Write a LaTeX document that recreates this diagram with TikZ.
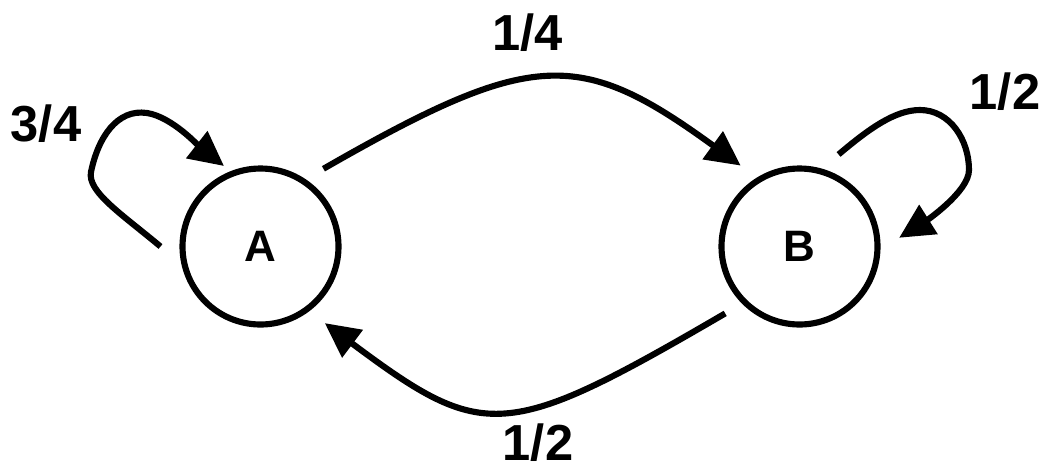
\documentclass[tikz,border=0pt]{standalone}
\usepackage{fontspec}
\setmainfont{Liberation Sans}
\usetikzlibrary{arrows.meta,calc}
\begin{document}
\begin{tikzpicture}[x=0.75pt,y=-0.75pt,
  state/.style={circle,draw,line width=4.6pt,minimum size=117pt,inner sep=0pt,outer sep=16.5pt,font=\fontsize{33}{36}\selectfont\bfseries},
  lbl/.style={font=\fontsize{38}{40}\selectfont\bfseries,inner sep=0pt},
  edge/.style={line width=4.6pt,-{Triangle[length=26pt,width=25pt]}}]
\useasboundingbox (0,0) rectangle (1042,472);
\node[state] (A) at (260.5,246.5) {A};
\node[state] (B) at (799.5,246.5) {B};
\draw[edge] (A.51) .. controls (532.9,48.6) and (579.7,48.6) .. (B.126);
\draw[edge] (B.222) .. controls (504.8,441.9) and (484.1,441.9) .. (A.310);
\draw[edge] (A.180) .. controls (122.2,214.4) and (87,191.6) .. (91,172)
   .. controls (98,137.7) and (117,108.5) .. (147,113)
   .. controls (172,116.75) and (200.4,147.5) .. ($(A.center)+(114.4:66.3pt)$);
\draw[edge] (B.67) .. controls (869,128.7) and (895,110) .. (920,110)
   .. controls (950,110) and (969,140) .. (969,170)
   .. controls (969,192) and (924.3,222) .. (B.5);
\node[lbl] (l34) at (46,123.5) {3/4};
\node[lbl] (l14) at (527.5,32.5) {1/4};
\node[lbl] (l12a) at (1005,91.5) {1/2};
\node[lbl] (l12b) at (538,443) {1/2};
\end{tikzpicture}
\end{document}
